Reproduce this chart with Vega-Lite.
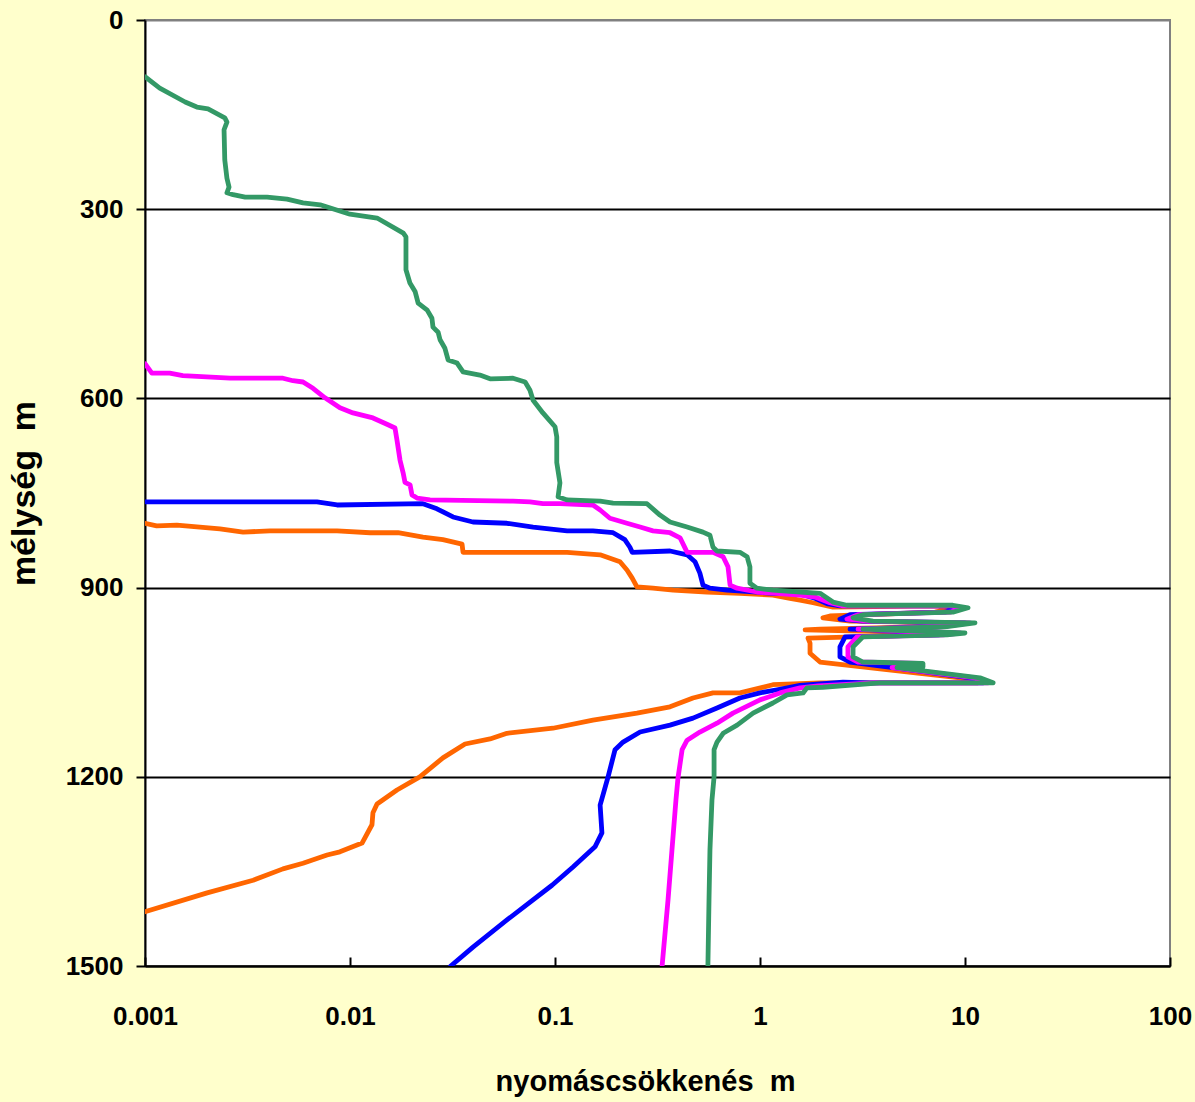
{
  "$schema": "https://vega.github.io/schema/vega-lite/v6.json",
  "width": 1025,
  "height": 946,
  "autosize": {"type": "none"},
  "padding": {"left": 145, "top": 20, "right": 25, "bottom": 136},
  "background": "#FFFFCC",
  "config": {
    "view": {"stroke": "#808080", "strokeWidth": 2, "fill": "white"},
    "font": "Liberation Sans Narrow, Liberation Sans, Arial"
  },
  "data": {"values": [
    {"s":"o","i":1,"x":0.001,"d":798},{"s":"o","i":2,"x":0.00114,"d":802},{"s":"o","i":3,"x":0.00143,"d":801},{"s":"o","i":4,"x":0.00232,"d":807},{"s":"o","i":5,"x":0.00301,"d":812},{"s":"o","i":6,"x":0.00407,"d":810},{"s":"o","i":7,"x":0.00865,"d":810},{"s":"o","i":8,"x":0.01253,"d":813},{"s":"o","i":9,"x":0.01714,"d":813},{"s":"o","i":10,"x":0.0227,"d":820},{"s":"o","i":11,"x":0.0284,"d":824},{"s":"o","i":12,"x":0.0352,"d":831},{"s":"o","i":13,"x":0.0356,"d":844},{"s":"o","i":14,"x":0.1146,"d":844},{"s":"o","i":15,"x":0.166,"d":848},{"s":"o","i":16,"x":0.2075,"d":859},{"s":"o","i":17,"x":0.2244,"d":872},{"s":"o","i":18,"x":0.238,"d":885},{"s":"o","i":19,"x":0.251,"d":899},{"s":"o","i":20,"x":0.3006,"d":901},{"s":"o","i":21,"x":0.377,"d":904},{"s":"o","i":22,"x":0.551,"d":907},{"s":"o","i":23,"x":0.798,"d":909},{"s":"o","i":24,"x":1.156,"d":912},{"s":"o","i":25,"x":1.4,"d":917},{"s":"o","i":26,"x":1.567,"d":920},{"s":"o","i":27,"x":1.815,"d":924},{"s":"o","i":28,"x":2.27,"d":931},{"s":"o","i":29,"x":7.145,"d":929},{"s":"o","i":30,"x":8.93,"d":932},{"s":"o","i":31,"x":7.145,"d":939},{"s":"o","i":32,"x":2.193,"d":945},{"s":"o","i":33,"x":2.028,"d":948},{"s":"o","i":34,"x":2.748,"d":953},{"s":"o","i":35,"x":8.93,"d":956},{"s":"o","i":36,"x":6.745,"d":962},{"s":"o","i":37,"x":1.963,"d":966},{"s":"o","i":38,"x":1.66,"d":967},{"s":"o","i":39,"x":8.45,"d":972},{"s":"o","i":40,"x":6.745,"d":975},{"s":"o","i":41,"x":1.714,"d":980},{"s":"o","i":42,"x":1.754,"d":988},{"s":"o","i":43,"x":1.754,"d":1004},{"s":"o","i":44,"x":1.963,"d":1018},{"s":"o","i":45,"x":3.846,"d":1029},{"s":"o","i":46,"x":9.46,"d":1043},{"s":"o","i":47,"x":11.56,"d":1051},{"s":"o","i":48,"x":3.076,"d":1051},{"s":"o","i":49,"x":1.963,"d":1051},{"s":"o","i":50,"x":1.156,"d":1054},{"s":"o","i":51,"x":0.798,"d":1067},{"s":"o","i":52,"x":0.59,"d":1067},{"s":"o","i":53,"x":0.471,"d":1075},{"s":"o","i":54,"x":0.364,"d":1089},{"s":"o","i":55,"x":0.251,"d":1099},{"s":"o","i":56,"x":0.1531,"d":1110},{"s":"o","i":57,"x":0.0977,"d":1123},{"s":"o","i":58,"x":0.0583,"d":1131},{"s":"o","i":59,"x":0.0482,"d":1140},{"s":"o","i":60,"x":0.0364,"d":1148},{"s":"o","i":61,"x":0.0284,"d":1170},{"s":"o","i":62,"x":0.0219,"d":1200},{"s":"o","i":63,"x":0.01695,"d":1221},{"s":"o","i":64,"x":0.01355,"d":1243},{"s":"o","i":65,"x":0.01294,"d":1257},{"s":"o","i":66,"x":0.0128,"d":1276},{"s":"o","i":67,"x":0.01145,"d":1305},{"s":"o","i":68,"x":0.00893,"d":1319},{"s":"o","i":69,"x":0.00773,"d":1324},{"s":"o","i":70,"x":0.0059,"d":1337},{"s":"o","i":71,"x":0.00471,"d":1346},{"s":"o","i":72,"x":0.00337,"d":1364},{"s":"o","i":73,"x":0.00201,"d":1384},{"s":"o","i":74,"x":0.001,"d":1414},
    {"s":"b","i":1,"x":0.001,"d":764},{"s":"b","i":2,"x":0.00509,"d":764},{"s":"b","i":3,"x":0.0069,"d":764},{"s":"b","i":4,"x":0.00865,"d":769},{"s":"b","i":5,"x":0.0227,"d":767},{"s":"b","i":6,"x":0.02655,"d":775},{"s":"b","i":7,"x":0.0318,"d":788},{"s":"b","i":8,"x":0.0398,"d":796},{"s":"b","i":9,"x":0.0583,"d":798},{"s":"b","i":10,"x":0.0782,"d":804},{"s":"b","i":11,"x":0.1146,"d":810},{"s":"b","i":12,"x":0.1531,"d":810},{"s":"b","i":13,"x":0.192,"d":813},{"s":"b","i":14,"x":0.219,"d":824},{"s":"b","i":15,"x":0.232,"d":836},{"s":"b","i":16,"x":0.238,"d":844},{"s":"b","i":17,"x":0.364,"d":842},{"s":"b","i":18,"x":0.441,"d":848},{"s":"b","i":19,"x":0.482,"d":859},{"s":"b","i":20,"x":0.509,"d":877},{"s":"b","i":21,"x":0.527,"d":896},{"s":"b","i":22,"x":0.57,"d":901},{"s":"b","i":23,"x":0.69,"d":904},{"s":"b","i":24,"x":1.156,"d":909},{"s":"b","i":25,"x":1.567,"d":910},{"s":"b","i":26,"x":1.854,"d":917},{"s":"b","i":27,"x":2.148,"d":926},{"s":"b","i":28,"x":2.455,"d":929},{"s":"b","i":29,"x":7.98,"d":929},{"s":"b","i":30,"x":9.25,"d":932},{"s":"b","i":31,"x":7.98,"d":939},{"s":"b","i":32,"x":2.748,"d":943},{"s":"b","i":33,"x":2.455,"d":950},{"s":"b","i":34,"x":3.148,"d":953},{"s":"b","i":35,"x":10.0,"d":956},{"s":"b","i":36,"x":7.38,"d":962},{"s":"b","i":37,"x":2.748,"d":966},{"s":"b","i":38,"x":8.93,"d":972},{"s":"b","i":39,"x":7.38,"d":975},{"s":"b","i":40,"x":2.6,"d":978},{"s":"b","i":41,"x":2.455,"d":994},{"s":"b","i":42,"x":2.455,"d":1010},{"s":"b","i":43,"x":2.748,"d":1018},{"s":"b","i":44,"x":4.457,"d":1027},{"s":"b","i":45,"x":10.57,"d":1043},{"s":"b","i":46,"x":12.25,"d":1051},{"s":"b","i":47,"x":3.443,"d":1051},{"s":"b","i":48,"x":2.541,"d":1050},{"s":"b","i":49,"x":1.567,"d":1055},{"s":"b","i":50,"x":1.211,"d":1062},{"s":"b","i":51,"x":1.0,"d":1067},{"s":"b","i":52,"x":0.798,"d":1075},{"s":"b","i":53,"x":0.617,"d":1091},{"s":"b","i":54,"x":0.471,"d":1107},{"s":"b","i":55,"x":0.364,"d":1118},{"s":"b","i":56,"x":0.26,"d":1129},{"s":"b","i":57,"x":0.2148,"d":1145},{"s":"b","i":58,"x":0.1963,"d":1157},{"s":"b","i":59,"x":0.1815,"d":1200},{"s":"b","i":60,"x":0.166,"d":1245},{"s":"b","i":61,"x":0.1694,"d":1289},{"s":"b","i":62,"x":0.1567,"d":1311},{"s":"b","i":63,"x":0.1224,"d":1343},{"s":"b","i":64,"x":0.0967,"d":1372},{"s":"b","i":65,"x":0.0583,"d":1427},{"s":"b","i":66,"x":0.0398,"d":1470},{"s":"b","i":67,"x":0.031,"d":1500},
    {"s":"m","i":1,"x":0.001,"d":545},{"s":"m","i":2,"x":0.00108,"d":560},{"s":"m","i":3,"x":0.00132,"d":560},{"s":"m","i":4,"x":0.00153,"d":564},{"s":"m","i":5,"x":0.0026,"d":568},{"s":"m","i":6,"x":0.00471,"d":568},{"s":"m","i":7,"x":0.00527,"d":572},{"s":"m","i":8,"x":0.0059,"d":574},{"s":"m","i":9,"x":0.0066,"d":584},{"s":"m","i":10,"x":0.00755,"d":599},{"s":"m","i":11,"x":0.00893,"d":615},{"s":"m","i":12,"x":0.01034,"d":623},{"s":"m","i":13,"x":0.01294,"d":631},{"s":"m","i":14,"x":0.01514,"d":641},{"s":"m","i":15,"x":0.01658,"d":647},{"s":"m","i":16,"x":0.01695,"d":666},{"s":"m","i":17,"x":0.01754,"d":698},{"s":"m","i":18,"x":0.01816,"d":718},{"s":"m","i":19,"x":0.01854,"d":733},{"s":"m","i":20,"x":0.01963,"d":737},{"s":"m","i":21,"x":0.02006,"d":753},{"s":"m","i":22,"x":0.02123,"d":758},{"s":"m","i":23,"x":0.02455,"d":761},{"s":"m","i":24,"x":0.0624,"d":763},{"s":"m","i":25,"x":0.0755,"d":764},{"s":"m","i":26,"x":0.0873,"d":767},{"s":"m","i":27,"x":0.1057,"d":767},{"s":"m","i":28,"x":0.1531,"d":769},{"s":"m","i":29,"x":0.166,"d":777},{"s":"m","i":30,"x":0.1854,"d":790},{"s":"m","i":31,"x":0.2244,"d":798},{"s":"m","i":32,"x":0.26,"d":804},{"s":"m","i":33,"x":0.3006,"d":810},{"s":"m","i":34,"x":0.364,"d":813},{"s":"m","i":35,"x":0.4074,"d":821},{"s":"m","i":36,"x":0.4305,"d":837},{"s":"m","i":37,"x":0.441,"d":844},{"s":"m","i":38,"x":0.59,"d":844},{"s":"m","i":39,"x":0.661,"d":851},{"s":"m","i":40,"x":0.698,"d":867},{"s":"m","i":41,"x":0.7145,"d":896},{"s":"m","i":42,"x":0.773,"d":901},{"s":"m","i":43,"x":0.966,"d":907},{"s":"m","i":44,"x":1.567,"d":912},{"s":"m","i":45,"x":1.854,"d":915},{"s":"m","i":46,"x":2.193,"d":924},{"s":"m","i":47,"x":2.541,"d":929},{"s":"m","i":48,"x":8.45,"d":929},{"s":"m","i":49,"x":9.77,"d":932},{"s":"m","i":50,"x":8.45,"d":939},{"s":"m","i":51,"x":3.006,"d":943},{"s":"m","i":52,"x":2.655,"d":950},{"s":"m","i":53,"x":3.365,"d":953},{"s":"m","i":54,"x":10.57,"d":956},{"s":"m","i":55,"x":7.816,"d":962},{"s":"m","i":56,"x":3.006,"d":966},{"s":"m","i":57,"x":9.46,"d":972},{"s":"m","i":58,"x":7.816,"d":975},{"s":"m","i":59,"x":2.972,"d":978},{"s":"m","i":60,"x":2.685,"d":994},{"s":"m","i":61,"x":2.685,"d":1010},{"s":"m","i":62,"x":3.006,"d":1018},{"s":"m","i":63,"x":5.902,"d":1020},{"s":"m","i":64,"x":5.902,"d":1026},{"s":"m","i":65,"x":4.406,"d":1027},{"s":"m","i":66,"x":11.19,"d":1043},{"s":"m","i":67,"x":12.94,"d":1051},{"s":"m","i":68,"x":3.639,"d":1051},{"s":"m","i":69,"x":1.919,"d":1056},{"s":"m","i":70,"x":1.567,"d":1059},{"s":"m","i":71,"x":1.253,"d":1067},{"s":"m","i":72,"x":1.0,"d":1078},{"s":"m","i":73,"x":0.738,"d":1099},{"s":"m","i":74,"x":0.617,"d":1115},{"s":"m","i":75,"x":0.509,"d":1129},{"s":"m","i":76,"x":0.441,"d":1142},{"s":"m","i":77,"x":0.417,"d":1157},{"s":"m","i":78,"x":0.398,"d":1202},{"s":"m","i":79,"x":0.389,"d":1237},{"s":"m","i":80,"x":0.372,"d":1316},{"s":"m","i":81,"x":0.356,"d":1395},{"s":"m","i":82,"x":0.333,"d":1500},
    {"s":"g","i":1,"x":0.001,"d":90},{"s":"g","i":2,"x":0.00118,"d":108},{"s":"g","i":3,"x":0.00157,"d":130},{"s":"g","i":4,"x":0.00179,"d":138},{"s":"g","i":5,"x":0.00203,"d":141},{"s":"g","i":6,"x":0.00245,"d":155},{"s":"g","i":7,"x":0.00251,"d":162},{"s":"g","i":8,"x":0.00243,"d":174},{"s":"g","i":9,"x":0.00245,"d":222},{"s":"g","i":10,"x":0.00251,"d":251},{"s":"g","i":11,"x":0.00257,"d":265},{"s":"g","i":12,"x":0.00251,"d":274},{"s":"g","i":13,"x":0.00269,"d":277},{"s":"g","i":14,"x":0.00308,"d":281},{"s":"g","i":15,"x":0.00394,"d":281},{"s":"g","i":16,"x":0.00493,"d":284},{"s":"g","i":17,"x":0.0059,"d":290},{"s":"g","i":18,"x":0.00715,"d":293},{"s":"g","i":19,"x":0.01,"d":308},{"s":"g","i":20,"x":0.01355,"d":314},{"s":"g","i":21,"x":0.0182,"d":338},{"s":"g","i":22,"x":0.01875,"d":344},{"s":"g","i":23,"x":0.01875,"d":396},{"s":"g","i":24,"x":0.0196,"d":417},{"s":"g","i":25,"x":0.0208,"d":431},{"s":"g","i":26,"x":0.0215,"d":449},{"s":"g","i":27,"x":0.0238,"d":460},{"s":"g","i":28,"x":0.0251,"d":473},{"s":"g","i":29,"x":0.0254,"d":487},{"s":"g","i":30,"x":0.0269,"d":495},{"s":"g","i":31,"x":0.0275,"d":507},{"s":"g","i":32,"x":0.029,"d":520},{"s":"g","i":33,"x":0.0301,"d":539},{"s":"g","i":34,"x":0.0333,"d":544},{"s":"g","i":35,"x":0.0356,"d":558},{"s":"g","i":36,"x":0.043,"d":563},{"s":"g","i":37,"x":0.0482,"d":569},{"s":"g","i":38,"x":0.0624,"d":568},{"s":"g","i":39,"x":0.0715,"d":574},{"s":"g","i":40,"x":0.0755,"d":587},{"s":"g","i":41,"x":0.0782,"d":603},{"s":"g","i":42,"x":0.0873,"d":623},{"s":"g","i":43,"x":0.1,"d":645},{"s":"g","i":44,"x":0.102,"d":661},{"s":"g","i":45,"x":0.102,"d":702},{"s":"g","i":46,"x":0.1057,"d":734},{"s":"g","i":47,"x":0.1035,"d":756},{"s":"g","i":48,"x":0.1146,"d":761},{"s":"g","i":49,"x":0.166,"d":763},{"s":"g","i":50,"x":0.192,"d":766},{"s":"g","i":51,"x":0.281,"d":767},{"s":"g","i":52,"x":0.325,"d":785},{"s":"g","i":53,"x":0.364,"d":796},{"s":"g","i":54,"x":0.441,"d":804},{"s":"g","i":55,"x":0.527,"d":812},{"s":"g","i":56,"x":0.57,"d":817},{"s":"g","i":57,"x":0.59,"d":836},{"s":"g","i":58,"x":0.617,"d":842},{"s":"g","i":59,"x":0.798,"d":844},{"s":"g","i":60,"x":0.865,"d":851},{"s":"g","i":61,"x":0.893,"d":867},{"s":"g","i":62,"x":0.893,"d":893},{"s":"g","i":63,"x":0.966,"d":901},{"s":"g","i":64,"x":1.156,"d":904},{"s":"g","i":65,"x":1.567,"d":907},{"s":"g","i":66,"x":1.963,"d":909},{"s":"g","i":67,"x":2.27,"d":923},{"s":"g","i":68,"x":2.655,"d":928},{"s":"g","i":69,"x":8.73,"d":928},{"s":"g","i":70,"x":10.35,"d":932},{"s":"g","i":71,"x":8.73,"d":939},{"s":"g","i":72,"x":3.177,"d":943},{"s":"g","i":73,"x":2.844,"d":948},{"s":"g","i":74,"x":3.556,"d":953},{"s":"g","i":75,"x":11.19,"d":956},{"s":"g","i":76,"x":8.166,"d":962},{"s":"g","i":77,"x":3.177,"d":966},{"s":"g","i":78,"x":10.0,"d":972},{"s":"g","i":79,"x":8.166,"d":975},{"s":"g","i":80,"x":3.177,"d":978},{"s":"g","i":81,"x":2.844,"d":994},{"s":"g","i":82,"x":2.844,"d":1010},{"s":"g","i":83,"x":3.177,"d":1018},{"s":"g","i":84,"x":6.237,"d":1020},{"s":"g","i":85,"x":6.237,"d":1026},{"s":"g","i":86,"x":4.656,"d":1027},{"s":"g","i":87,"x":11.83,"d":1043},{"s":"g","i":88,"x":13.71,"d":1051},{"s":"g","i":89,"x":3.846,"d":1051},{"s":"g","i":90,"x":2.028,"d":1058},{"s":"g","i":91,"x":1.694,"d":1059},{"s":"g","i":92,"x":1.622,"d":1067},{"s":"g","i":93,"x":1.355,"d":1070},{"s":"g","i":94,"x":1.156,"d":1083},{"s":"g","i":95,"x":0.925,"d":1099},{"s":"g","i":96,"x":0.773,"d":1118},{"s":"g","i":97,"x":0.661,"d":1131},{"s":"g","i":98,"x":0.617,"d":1145},{"s":"g","i":99,"x":0.597,"d":1157},{"s":"g","i":100,"x":0.597,"d":1200},{"s":"g","i":101,"x":0.583,"d":1237},{"s":"g","i":102,"x":0.57,"d":1316},{"s":"g","i":103,"x":0.564,"d":1395},{"s":"g","i":104,"x":0.557,"d":1500}
  ]},
  "mark": {"type": "line", "strokeWidth": 4.8, "strokeJoin": "round", "strokeCap": "round", "clip": true},
  "encoding": {
    "x": {
      "field": "x", "type": "quantitative",
      "scale": {"type": "log", "domain": [0.001, 100]},
      "axis": {
        "title": "nyomáscsökkenés\u00a0\u00a0m",
        "titleX": 500, "titleAnchor": "middle",
        "values": [0.001, 0.01, 0.1, 1, 10, 100],
        "format": "~g",
        "grid": false,
        "domainColor": "black", "domainWidth": 2,
        "tickColor": "black", "tickWidth": 2, "tickSize": -9,
        "labelFontSize": 26, "labelFontWeight": "bold", "labelColor": "black",
        "labelPadding": 46, "labelOverlap": false, "labelFlush": false, "labelBound": false,
        "titleFontSize": 29, "titleFontWeight": "bold", "titleColor": "black",
        "titlePadding": 38
      }
    },
    "y": {
      "field": "d", "type": "quantitative",
      "scale": {"domain": [0, 1500], "reverse": true, "nice": false},
      "axis": {
        "title": "mélység\u00a0\u00a0m",
        "values": [0, 300, 600, 900, 1200, 1500],
        "format": "d",
        "grid": true,
        "gridColor": {"condition": {"test": "datum.value == 0", "value": "#808080"}, "value": "black"},
        "gridWidth": 2,
        "domainColor": "black", "domainWidth": 2,
        "tickColor": "black", "tickWidth": 2, "tickSize": 9,
        "labelFontSize": 26, "labelFontWeight": "bold", "labelColor": "black",
        "labelPadding": 13, "labelOverlap": false, "labelFlush": false, "labelBound": false,
        "titleFontSize": 34, "titleFontWeight": "bold", "titleColor": "black",
        "titlePadding": 24
      }
    },
    "color": {
      "field": "s", "type": "nominal",
      "scale": {"domain": ["o", "b", "m", "g"], "range": ["#FF6600", "#0000FF", "#FF00FF", "#339966"]},
      "legend": null
    },
    "order": {"field": "i", "type": "quantitative"}
  }
}
